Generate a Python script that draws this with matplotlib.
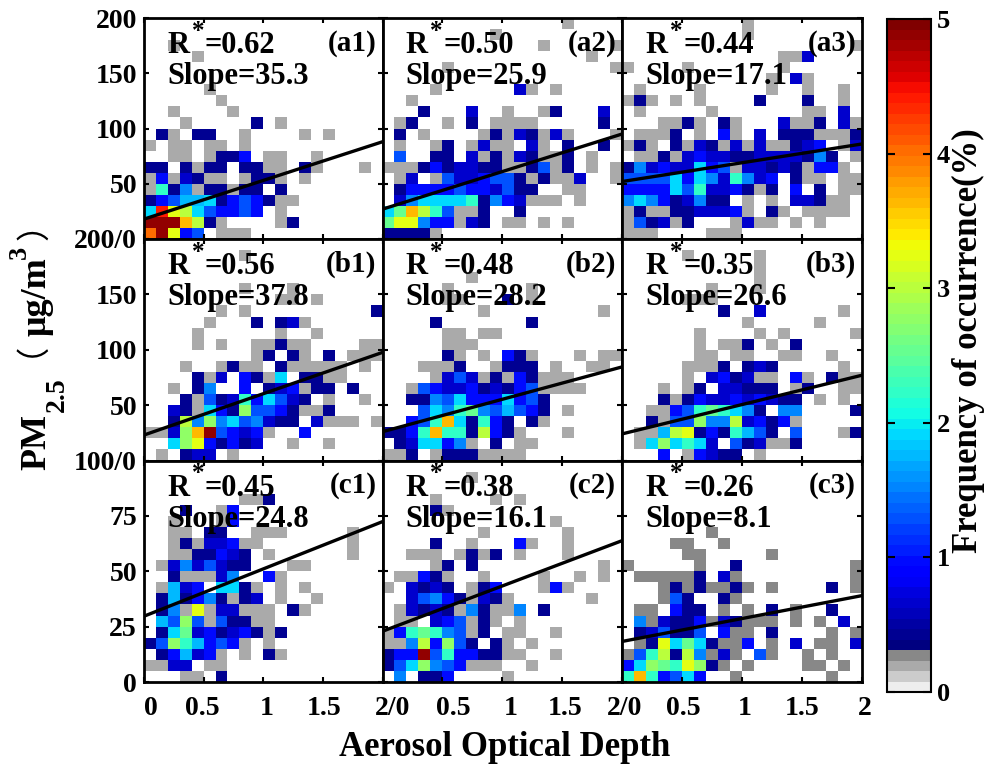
import numpy as np
import matplotlib
matplotlib.use("Agg")
import matplotlib.pyplot as plt
from matplotlib.colors import ListedColormap, BoundaryNorm
from matplotlib.transforms import ScaledTranslation

plt.rcParams['font.family'] = ['Liberation Serif', 'Noto Sans CJK SC', 'DejaVu Sans']
plt.rcParams['font.weight'] = 'bold'
plt.rcParams['mathtext.default'] = 'regular'

# letters used in the grids below -> frequency of occurrence (%)
freq_codes = {'.': np.nan, 'g': 0.2, 'G': 0.27, 'a': 0.4, 'b': 0.7, 'c': 1.0, 'd': 1.25,
              'e': 1.5, 'f': 1.75, 'h': 1.95, 'i': 2.2, 'j': 2.5, 'k': 2.75, 'l': 3.0,
              'm': 3.25, 'n': 3.6, 'o': 4.0, 'p': 4.4, 'q': 4.9}

# rows run from the top of each panel down, 20 x 20 bins
a1 = ["....................", "....................", "..g.................", "....g...............",
      "....................", "....................", ".....g..............", "......g.............",
      "..g....g............", "...g.....a.g........", ".ag.aa..g....g.g....", "g.gg.gg.g...........",
      "..gg.gaac.gg..g.....", "aa.agaa.aagg.ag...g.", "gcgbagg.gaag.g......", "giaegaagaa.a........",
      "acdffhacdcagg.......", "hpmlhdccdc.g........", "qqqnlag....ga.......", "oqmcd.ggg..........."]
a2 = ["...............g....", ".........g..........", ".............g.....g", ".................g..",
      ".....g.............g", "....................", "....g......bg.g.....", "..g.................",
      "...a...b..g..ga...b.", ".ga..g.a.gggg.....a.", ".a.g....gagbagbg...g", ".g..ga.gbgg.bg.a..a.",
      ".d..aa.bgagbagga.g..", "gggacabbaaggadga.g.g", ".gb.gdbbcddagaggb..g", ".accccdccbdaa..gg...",
      ".behhhhiaecbggg.g...", "hjnlidgga..a........", "jmmeccgba.gg.g.g....", "aaaag..............."]
a3 = ["..........g.........", "..........g.........", "...................g", ".............ggb....",
      "g....g.......g......", "............g.bg....", ".g....g.....g..g..g.", "gag.g.g....a...a..g.",
      ".g.....g.......gg.b.", "...ggag.ag...bgga.bg", ".ggga.g.cg.b.aaaggga", "gag.agbagbgbggabc.gb",
      ".ggagbcbbaabbbbaea.g", "aebcbbhcdgbbabagccg.", "ddddhchebiebc.agg.gg", "cccchdibbcaga.c.a.gg",
      "ehecabeaa.g.g.bbagg.", "gaggaabbbcg.ag.gggg.", "gdabga...gbgg.g.g...", "ggg....ggg.........."]
b1 = ["....................", "........g...........", "....................", "....................",
      "........g...g.......", "...........gg.g.....", "......g.g..........a", ".....g...a.abg......",
      "....g......g..g.....", "....g.g..ggagg....gg", ".........ga.ag.a.ggg", "...g..gagg.aggggg.g.",
      "....agb.cagh.aagg...", "..g.ae..c.abcgaa.a..", "...agdabichdba.g..g.", "..baghcakddcagga....",
      "..alekehdebaa.bggg.g", "ggbknqdcbcg..c......", "..hkmcacab..g..g....", ".g.abb.g............"]
b2 = ["....................", "....................", "....................", ".......g............",
      ".....g......g.......", ".....gg...a.g.......", "........g.........g.", "....a.......a.......",
      ".....gg.gg..........", ".....ggg............", ".....ag.g.cag...g.gg", "...ggga..gaaa.g..gg.",
      "....gbdbgagcaggg....", "..gdcbbcabacdgggg...", "..aaedhccchcda......", "...dheijedfdca.g....",
      "..cdinhaica.ag......", "aaciniialcag...g....", ".abhhceg.a.gg.......", "gga.gaaagggg........"]
b3 = ["....................", ".....g.....g........", "...........g........", "...........g........",
      ".......g...g........", ".....ggg............", "........a..b......g.", "..........g.....g...",
      "......g....g.g.....g", "......g.gga.g.a.....", "......gg.gg..gg..g..", ".....ggga.aba.....g.",
      ".....g.bcabgg.cg.agg", "...g.ga.bbaaa.ga..gg", "...agacbbcbcbaa.g.g.", "..ggcdijihea.ee....a",
      "..agddkeelbcacg.....", ".ggflmacaifda.d...ga", ".ghkhihb.dabgga.....", "...c.gcbaa.g........"]
c1 = ["....................", "....................", "....................", "........gga.........",
      "...a..gc............", "..g...gc............", "..gg.aa..ggg.....g..", "..gagbbcgg.......g..",
      "..ggaacba.g......g..", ".gbebdbaa...gg......", "..agggbe..cg........", ".gfbc.hhag.g.g......",
      ".afaceagab.g..g.....", ".aegmgbbggg.ag......", ".fdkdgdaagg.........", ".ahjbcabcaga........",
      "adkifcdcg.g.........", ".acfbcg.g.ag........", "ggbb.gg.............", "...gg.a............."]
c2 = ["....................", ".......g............", "....................", "....g....g.g........",
      "....ag..............", "..............g.....", "........g......g....", "....a..g...cg..g....",
      "..ggg.gaga.g...g....", "....ga.a..........g.", ".ggcag..g....g..g.g.", "g.baba.gac...gcg....",
      "..bdecagbag......g..", ".gbabageagge.a......", ".gg.bcdgag.g........", "gcijiedga.gg..g.....",
      "ggelckda.ag.g.......", "accqdiccaagg..g.....", "adhkedcggg..g.......", ".e.aac....g........."]
c3 = ["....................", "....................", "....................", "....................",
      "....................", "....................", ".......G............", "....GG..G...........",
      ".....GG.....G.......", "G.....G..a.........G", ".GGGGGa.bG.........G", "...GaGaGGaG.G....a.G",
      "...Gda..aG..........", ".GG.caa.G.G.a.G..a..", ".eGbaacGbaGGG.G.G.b.", ".abdaad.cGG.a....G.G",
      ".GamhjhaGGc.G.b.GG.b", "GdilaleGbG.dG..G.G..", "chkjimkaG.G....GG.G.", "inicdhc..G.......G.."]

panel_names = ['(a1)', '(a2)', '(a3)', '(b1)', '(b2)', '(b3)', '(c1)', '(c2)', '(c3)']
r_values = ['0.62', '0.50', '0.44', '0.56', '0.48', '0.35', '0.45', '0.38', '0.26']
slopes = ['35.3', '25.9', '17.1', '37.8', '28.2', '26.6', '24.8', '16.1', '8.1']
line_left = [18, 27, 52, 23, 26, 24, 29.7, 22.9, 18.3]
line_right = [88, 95, 86, 97.6, 84.5, 77, 72.4, 63.8, 39]
y_max = [200, 200, 200, 200, 200, 200, 100, 100, 100]
y_ticks = [[0, 50, 100, 150, 200], [0, 50, 100, 150, 200], [0, 25, 50, 75, 100]]
y_labels = [['200/0', '50', '100', '150', '200'], ['100/0', '50', '100', '150', ''], ['0', '25', '50', '75', '']]
x_ticks = [0, 0.5, 1, 1.5, 2]
x_labels = [['0', '0.5', '1', '1.5', '2/0'], ['', '0.5', '1', '1.5', '2/0'], ['', '0.5', '1', '1.5', '2']]
# the tick labels in the original sit a few pixels off their ticks
x_label_shift = [[7, -1, 3, 1, 10], [0, 11, 8, 3, 3], [0, 1, 3, 0, 3]]
grids = [a1, a2, a3, b1, b2, b3, c1, c2, c3]

W, H = 993, 769


def px_axes(fig, left, top, right, bottom):
    return fig.add_axes([left / W, 1 - bottom / H, (right - left) / W, (bottom - top) / H])


def px_text(fig, x, y, s, **kw):
    fig.text(x / W, 1 - y / H, s, ha='center', va='center', **kw)


# 4 greys then jet, the colour bar has about 64 bands
grey_part = ['#eeeeee', '#cccccc', '#aaaaaa', '#888888']
jet_part = [plt.get_cmap('jet')(i) for i in np.linspace(0, 1, 60)]
cmap = ListedColormap(grey_part + jet_part)
bounds = list(np.linspace(0, 0.31, 5)) + list(np.linspace(0.31, 5, 61)[1:])
norm = BoundaryNorm(bounds, cmap.N)

fig = plt.figure(figsize=(W / 100, H / 100), dpi=100)

xs = [144, 382.5, 622, 862]
ys = [18, 239, 460.5, 682]
TEXT_SIZE = 22

for n in range(9):
    row, col = n // 3, n % 3
    ax = px_axes(fig, xs[col], ys[row], xs[col + 1], ys[row + 1])

    grid = np.array([[freq_codes[ch] for ch in line] for line in grids[n]])[::-1]
    x_edges = np.linspace(0, 2, 21)
    y_edges = np.linspace(0, y_max[n], 21)
    mesh = ax.pcolormesh(x_edges, y_edges, np.ma.masked_invalid(grid), cmap=cmap, norm=norm)
    ax.plot([0, 2], [line_left[n], line_right[n]], color='black', lw=2.4, zorder=3)

    ax.set_xlim(0, 2)
    ax.set_ylim(0, y_max[n])
    ax.set_xticks(x_ticks)
    ax.set_yticks(y_ticks[row])
    ax.tick_params(direction='in', length=3.5, width=1.5, top=True, right=True)
    ax.tick_params(axis='x', pad=10)
    ax.tick_params(axis='y', pad=5)
    if row == 2:
        ax.set_xticklabels(x_labels[col], fontsize=20)
        for lab, dx in zip(ax.get_xticklabels(), x_label_shift[col]):
            lab.set_transform(lab.get_transform() + ScaledTranslation(dx / 100, 0, fig.dpi_scale_trans))
    else:
        ax.set_xticklabels([])
    if col == 0:
        ax.set_yticklabels(y_labels[row], fontsize=20)
    else:
        ax.set_yticklabels([])
    for sp in ax.spines.values():
        sp.set_linewidth(2)

    ax.text(0.097, 0.875, 'R', transform=ax.transAxes, fontsize=TEXT_SIZE, va='center', zorder=4)
    ax.text(0.2, 0.94, '*', transform=ax.transAxes, fontsize=TEXT_SIZE - 4, va='center', zorder=4)
    ax.text(0.255, 0.875, '=' + r_values[n], transform=ax.transAxes, fontsize=TEXT_SIZE, va='center', zorder=4)
    ax.text(0.097, 0.735, 'Slope=' + slopes[n], transform=ax.transAxes, fontsize=TEXT_SIZE, va='center', zorder=4)
    ax.text(0.975, 0.885, panel_names[n], transform=ax.transAxes, fontsize=TEXT_SIZE - 1, va='center', ha='right', zorder=4)

cax = px_axes(fig, 887, 19, 931, 692)
cbar = fig.colorbar(mesh, cax=cax, spacing='proportional', ticks=[0, 1, 2, 3, 4, 5])
cbar.minorticks_off()
cax.tick_params(direction='in', length=6, width=1.5, left=True, right=True, labelsize=19, pad=4)
cbar.outline.set_linewidth(1.5)
px_text(fig, 968, 341, 'Frequency of occurrence(%)', rotation=90, fontsize=25)

px_text(fig, 505, 748, 'Aerosol Optical Depth', fontsize=25)

# y label in pieces, the wide brackets do not work next to mathtext
px_text(fig, 37, 442, 'PM', rotation=90, fontsize=26)
px_text(fig, 57, 395, '2.5', rotation=90, fontsize=20)
px_text(fig, 14, 340, '（', rotation=90, fontsize=24, fontweight='normal')
px_text(fig, 37, 297, 'μg/m', rotation=90, fontsize=26)
px_text(fig, 19, 252, '3', rotation=90, fontsize=19)
px_text(fig, 35, 223, '）', rotation=90, fontsize=24, fontweight='normal')

fig.savefig('out.png', dpi=100)
